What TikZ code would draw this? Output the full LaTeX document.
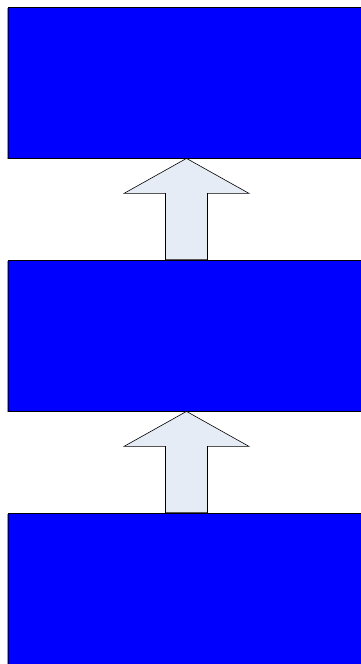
\documentclass[tikz,border=0pt]{standalone}
\usepackage{tikz}
\usetikzlibrary{calc}
\usetikzlibrary{shadows}

\definecolor{blockblue}{RGB}{0,0,255}
\definecolor{arrowfill}{RGB}{230,236,246}

\tikzset{
  layer/.style={draw=black, line width=.8pt, fill=blockblue, minimum width=357pt, minimum height=151pt, inner sep=0pt,
    drop shadow={shadow xshift=-.6pt, shadow yshift=-1.4pt, fill=gray!80, opacity=1}},
  uparrow/.style={draw=black, line width=.6pt, fill=arrowfill, line join=miter}
}

\begin{document}
\begin{tikzpicture} [x=1pt,y=1pt]
\useasboundingbox (0,0) rectangle (360,-664);

\foreach \n/\y in {1/-82.5, 2/-335.5, 3/-588.5} \node[layer] (b\n) at (186.5,\y) {};

\foreach \a/\b in {1/2, 2/3} \draw[uparrow] ($(b\b.north)+(-21,0)$) |- ($(b\a.south)+(-62.5,-35)$) -- (b\a.south) -- ($(b\a.south)+(62.5,-35)$) -| ($(b\b.north)+(21,0)$) -- cycle;
\end{tikzpicture}
\end{document}
